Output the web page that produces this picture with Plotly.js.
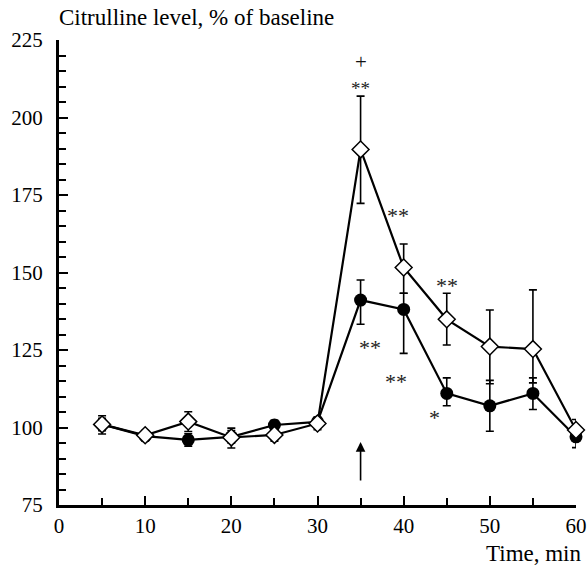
<!DOCTYPE html>
<html>
<head>
<meta charset="utf-8">
<script src="https://cdn.plot.ly/plotly-3.0.1.min.js"></script>
<style>html,body{margin:0;padding:0;background:#fff;}#chart{width:588px;height:566px;}</style>
</head>
<body>
<div id="chart"></div>
<script>
// Time points (min)
const timeFilled = [5, 10, 15, 20, 25, 30, 35, 40, 45, 50, 55, 60];
const filledValues = [101, 97.2, 96.0, 97.0, 100.8, 101.8, 141.1, 138.1, 111.0, 107.0, 111.0, 97.0];
const filledErrPlus = [2, 1.5, 2, 2, 1.5, 1.5, 6.5, 5.2, 5.0, 8.2, 5.0, 3.2];
const filledErrMinus = [2, 1.5, 2, 2, 1.5, 1.5, 7.8, 14.2, 4.0, 8.2, 5.2, 3.5];

const timeOpen = [5, 10, 15, 20, 25, 30, 35, 40, 45, 50, 55, 60];
const openValues = [101.0, 97.5, 101.9, 96.8, 97.6, 101.3, 189.7, 151.6, 134.9, 126.1, 125.3, 99.2];
const openErrPlus = [2.8, 1.5, 3.2, 3.0, 2.0, 2.0, 17.2, 7.6, 8.4, 11.8, 19.1, 3.4];
const openErrMinus = [3.1, 1.5, 3.2, 3.4, 2.0, 2.0, 17.4, 8.3, 8.3, 12.0, 10.9, 3.0];

const axisTitleY = "Citrulline level, % of baseline";
const axisTitleX = "Time, min";

// Significance marks
const markTimes = [35, 35, 39.3, 45.0, 36.1, 39.1, 43.6];
const markLevels = [216.9, 210.8, 168.9, 146.6, 126.6, 115.6, 103.8];
const markTexts = ["+", "**", "**", "**", "**", "**", "*"];

const injectionTime = 35;

const serif = "Liberation Serif";

const traces = [
  {
    x: timeFilled, y: filledValues, type: 'scatter', mode: 'lines+markers',
    cliponaxis: false,
    line: {color: '#000', width: 2.2},
    marker: {symbol: 'circle', size: 13, color: '#000', line: {color: '#000', width: 0}},
    error_y: {type: 'data', symmetric: false, array: filledErrPlus, arrayminus: filledErrMinus,
              color: '#000', thickness: 1.6, width: 4},
    showlegend: false, hoverinfo: 'x+y'
  },
  {
    x: timeOpen, y: openValues, type: 'scatter', mode: 'lines+markers',
    cliponaxis: false,
    line: {color: '#000', width: 2.2},
    marker: {symbol: 'diamond', size: 13, color: '#fff', line: {color: '#000', width: 1.5}},
    error_y: {type: 'data', symmetric: false, array: openErrPlus, arrayminus: openErrMinus,
              color: '#000', thickness: 1.6, width: 4},
    showlegend: false, hoverinfo: 'x+y'
  }
];

const annotations = [];
annotations.push({
  x: markTimes[0], y: markLevels[0], xref: 'x', yref: 'y',
  text: markTexts[0], showarrow: false, yanchor: 'bottom', yshift: -11,
  font: {family: serif, size: 21, color: '#111'}
});
annotations.push({
  x: markTimes[1], y: markLevels[1], xref: 'x', yref: 'y',
  text: markTexts[1], showarrow: false, yanchor: 'top', yshift: 8,
  font: {family: serif, size: 19, color: '#222'}
});
for (let i = 2; i < markTexts.length; i++) {
  annotations.push({
    x: markTimes[i], y: markLevels[i], xref: 'x', yref: 'y',
    text: markTexts[i], showarrow: false, yshift: -2,
    font: {family: serif, size: 22, color: '#222'}
  });
}

annotations.push({
  x: injectionTime, y: 95.3, xref: 'x', yref: 'y',
  ax: injectionTime, ay: 82.4, axref: 'x', ayref: 'y',
  text: '', showarrow: true, arrowhead: 2, arrowsize: 1.2, arrowwidth: 1.6, arrowcolor: '#000'
});

annotations.push({
  x: 0, y: 1, xref: 'paper', yref: 'paper', xanchor: 'left', yanchor: 'bottom',
  yshift: 8, xshift: -2, text: axisTitleY, showarrow: false,
  font: {family: serif, size: 23, color: '#000'}
});
annotations.push({
  x: 1, y: 0, xref: 'paper', yref: 'paper', xanchor: 'right', yanchor: 'top',
  yshift: -34, xshift: 8, text: axisTitleX, showarrow: false,
  font: {family: serif, size: 23, color: '#000'}
});

const layout = {
  width: 588, height: 566,
  margin: {l: 59, r: 12, t: 40, b: 61},
  paper_bgcolor: '#fff', plot_bgcolor: '#fff',
  font: {family: serif, color: '#000', size: 20},
  xaxis: {
    range: [0, 60], dtick: 10, tick0: 0,
    showgrid: false, zeroline: false,
    showline: true, linecolor: '#000', linewidth: 3,
    ticks: 'inside', ticklen: 9, tickwidth: 2, tickcolor: '#000',
    ticklabelstandoff: 0,
    minor: {ticks: 'inside', dtick: 5, ticklen: 7, tickwidth: 2, tickcolor: '#000', showgrid: false},
    tickfont: {family: serif, size: 21, color: '#000'},
    fixedrange: true
  },
  yaxis: {
    range: [75, 225], dtick: 25, tick0: 75,
    showgrid: false, zeroline: false,
    showline: true, linecolor: '#000', linewidth: 3,
    ticks: 'inside', ticklen: 9, tickwidth: 2, tickcolor: '#000',
    ticklabelstandoff: 9,
    minor: {ticks: 'inside', dtick: 5, ticklen: 7, tickwidth: 2, tickcolor: '#000', showgrid: false},
    tickfont: {family: serif, size: 21, color: '#000'},
    fixedrange: true
  },
  annotations: annotations,
  showlegend: false
};

Plotly.newPlot('chart', traces, layout, {displayModeBar: false, staticPlot: true});
</script>
</body>
</html>
